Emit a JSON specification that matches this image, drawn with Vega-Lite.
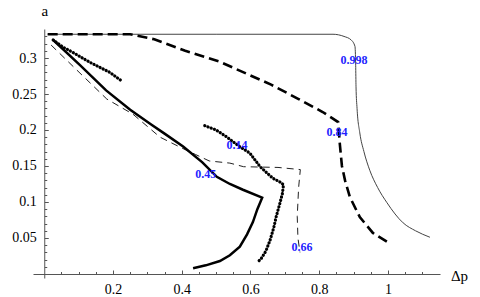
{
  "$schema": "https://vega.github.io/schema/vega-lite/v6.json",
  "width": 407,
  "height": 249,
  "autosize": "none",
  "padding": {"left": 33, "top": 29, "right": 40, "bottom": 19},
  "config": {"view": {"stroke": null}, "font": "Times New Roman"},
  "datasets": {
    "A": [
      {"i": 1, "x": 0.01, "y": 0.333}, {"i": 2, "x": 0.5, "y": 0.333}, {"i": 3, "x": 0.84, "y": 0.333},
      {"i": 4, "x": 0.872, "y": 0.330}, {"i": 5, "x": 0.893, "y": 0.325}, {"i": 6, "x": 0.904, "y": 0.316},
      {"i": 7, "x": 0.906, "y": 0.29}, {"i": 8, "x": 0.907, "y": 0.26}, {"i": 9, "x": 0.91, "y": 0.23},
      {"i": 10, "x": 0.918, "y": 0.196}, {"i": 11, "x": 0.93, "y": 0.17}, {"i": 12, "x": 0.947, "y": 0.144},
      {"i": 13, "x": 0.97, "y": 0.12}, {"i": 14, "x": 0.997, "y": 0.099}, {"i": 15, "x": 1.044, "y": 0.071},
      {"i": 16, "x": 1.08, "y": 0.06}, {"i": 17, "x": 1.122, "y": 0.051}
    ],
    "B": [
      {"i": 1, "x": 0.01, "y": 0.333}, {"i": 2, "x": 0.25, "y": 0.333}, {"i": 3, "x": 0.32, "y": 0.326},
      {"i": 4, "x": 0.41, "y": 0.31}, {"i": 5, "x": 0.51, "y": 0.295}, {"i": 6, "x": 0.58, "y": 0.28},
      {"i": 7, "x": 0.66, "y": 0.263}, {"i": 8, "x": 0.74, "y": 0.243}, {"i": 9, "x": 0.81, "y": 0.225},
      {"i": 10, "x": 0.855, "y": 0.211}, {"i": 11, "x": 0.86, "y": 0.18}, {"i": 12, "x": 0.866, "y": 0.15},
      {"i": 13, "x": 0.875, "y": 0.13}, {"i": 14, "x": 0.889, "y": 0.107}, {"i": 15, "x": 0.918, "y": 0.079},
      {"i": 16, "x": 0.956, "y": 0.057}, {"i": 17, "x": 1.006, "y": 0.042}
    ],
    "C": [
      {"i": 1, "x": 0.02, "y": 0.318}, {"i": 2, "x": 0.104, "y": 0.279}, {"i": 3, "x": 0.182, "y": 0.243},
      {"i": 4, "x": 0.258, "y": 0.222}, {"i": 5, "x": 0.337, "y": 0.19}, {"i": 6, "x": 0.40, "y": 0.175},
      {"i": 7, "x": 0.44, "y": 0.166}, {"i": 8, "x": 0.48, "y": 0.157}, {"i": 9, "x": 0.54, "y": 0.154},
      {"i": 10, "x": 0.58, "y": 0.149}, {"i": 11, "x": 0.68, "y": 0.148}, {"i": 12, "x": 0.745, "y": 0.145},
      {"i": 13, "x": 0.74, "y": 0.12}, {"i": 14, "x": 0.736, "y": 0.08}, {"i": 15, "x": 0.738, "y": 0.05},
      {"i": 16, "x": 0.744, "y": 0.03}
    ],
    "D": [
      {"i": 1, "x": 0.026, "y": 0.325}, {"i": 2, "x": 0.104, "y": 0.29}, {"i": 3, "x": 0.18, "y": 0.255},
      {"i": 4, "x": 0.25, "y": 0.228}, {"i": 5, "x": 0.31, "y": 0.208}, {"i": 6, "x": 0.35, "y": 0.195},
      {"i": 7, "x": 0.404, "y": 0.177}, {"i": 8, "x": 0.46, "y": 0.155}, {"i": 9, "x": 0.502, "y": 0.135},
      {"i": 10, "x": 0.54, "y": 0.125}, {"i": 11, "x": 0.578, "y": 0.117}, {"i": 12, "x": 0.634, "y": 0.106},
      {"i": 13, "x": 0.62, "y": 0.09}, {"i": 14, "x": 0.607, "y": 0.072}, {"i": 15, "x": 0.59, "y": 0.055},
      {"i": 16, "x": 0.569, "y": 0.038}, {"i": 17, "x": 0.54, "y": 0.026}, {"i": 18, "x": 0.511, "y": 0.018},
      {"i": 19, "x": 0.47, "y": 0.012}, {"i": 20, "x": 0.433, "y": 0.008}
    ],
    "E": [
      {"s": "E1", "i": 1, "x": 0.026, "y": 0.325}, {"s": "E1", "i": 2, "x": 0.055, "y": 0.315},
      {"s": "E1", "i": 3, "x": 0.075, "y": 0.31}, {"s": "E1", "i": 4, "x": 0.104, "y": 0.302},
      {"s": "E1", "i": 5, "x": 0.133, "y": 0.294}, {"s": "E1", "i": 6, "x": 0.162, "y": 0.287},
      {"s": "E1", "i": 7, "x": 0.191, "y": 0.28}, {"s": "E1", "i": 8, "x": 0.214, "y": 0.272},
      {"s": "E1", "i": 9, "x": 0.226, "y": 0.268},
      {"s": "E2", "i": 10, "x": 0.467, "y": 0.206}, {"s": "E2", "i": 11, "x": 0.5, "y": 0.2},
      {"s": "E2", "i": 12, "x": 0.532, "y": 0.19}, {"s": "E2", "i": 13, "x": 0.565, "y": 0.178},
      {"s": "E2", "i": 14, "x": 0.598, "y": 0.168}, {"s": "E2", "i": 15, "x": 0.628, "y": 0.149},
      {"s": "E2", "i": 16, "x": 0.665, "y": 0.133}, {"s": "E2", "i": 17, "x": 0.685, "y": 0.128},
      {"s": "E2", "i": 18, "x": 0.696, "y": 0.124}, {"s": "E2", "i": 19, "x": 0.693, "y": 0.112},
      {"s": "E2", "i": 20, "x": 0.686, "y": 0.099}, {"s": "E2", "i": 21, "x": 0.675, "y": 0.08},
      {"s": "E2", "i": 22, "x": 0.668, "y": 0.065}, {"s": "E2", "i": 23, "x": 0.657, "y": 0.047},
      {"s": "E2", "i": 24, "x": 0.645, "y": 0.032}, {"s": "E2", "i": 25, "x": 0.632, "y": 0.022},
      {"s": "E2", "i": 26, "x": 0.622, "y": 0.017}
    ],
    "L": [
      {"x": 0.901, "y": 0.297, "t": "0.998"},
      {"x": 0.852, "y": 0.197, "t": "0.84"},
      {"x": 0.561, "y": 0.179, "t": "0.14"},
      {"x": 0.47, "y": 0.139, "t": "0.45"},
      {"x": 0.75, "y": 0.0375, "t": "0.66"}
    ]
  },
  "encoding": {
    "x": {
      "field": "x", "type": "quantitative",
      "scale": {"domain": [-0.0327, 1.1513], "nice": false, "zero": false},
      "axis": {
        "orient": "bottom", "offset": -4, "title": "Δp", "grid": false,
        "values": [0.05, 0.1, 0.15, 0.2, 0.25, 0.3, 0.35, 0.4, 0.45, 0.5, 0.55, 0.6, 0.65, 0.7, 0.75, 0.8, 0.85, 0.9, 0.95, 1, 1.05, 1.1],
        "labelExpr": "abs(datum.value*5 - round(datum.value*5)) < 0.001 ? format(datum.value, '~g') : ''",
        "tickSize": {"condition": {"test": "abs(datum.value*5 - round(datum.value*5)) < 0.001", "value": -4}, "value": -2.5},
        "tickColor": "#555", "domainColor": "#555", "labelColor": "#000",
        "labelFont": "Times New Roman", "labelFontSize": 14, "labelPadding": 12, "labelFlush": false, "labelOverlap": false,
        "titleFont": "Times New Roman", "titleFontSize": 15, "titleFontWeight": "normal", "titleColor": "#000",
        "titleAngle": 0, "titleX": 426, "titleY": 1, "titleAlign": "center", "titleBaseline": "middle"
      }
    },
    "y": {
      "field": "y", "type": "quantitative",
      "scale": {"domain": [-0.0056, 0.3403], "nice": false, "zero": false},
      "axis": {
        "orient": "left", "offset": -11.25, "title": "a", "grid": false,
        "values": [0.01, 0.02, 0.03, 0.04, 0.05, 0.06, 0.07, 0.08, 0.09, 0.1, 0.11, 0.12, 0.13, 0.14, 0.15, 0.16, 0.17, 0.18, 0.19, 0.2, 0.21, 0.22, 0.23, 0.24, 0.25, 0.26, 0.27, 0.28, 0.29, 0.3, 0.31, 0.32, 0.33],
        "labelExpr": "abs(datum.value*20 - round(datum.value*20)) < 0.001 ? format(datum.value, '~g') : ''",
        "tickSize": {"condition": {"test": "abs(datum.value*20 - round(datum.value*20)) < 0.001", "value": -4}, "value": -2.5},
        "tickColor": "#555", "domainColor": "#555", "labelColor": "#000",
        "labelFont": "Times New Roman", "labelFontSize": 14, "labelPadding": 12, "labelFlush": false, "labelOverlap": false,
        "titleFont": "Times New Roman", "titleFontSize": 15, "titleFontWeight": "normal", "titleColor": "#000",
        "titleAngle": 0, "titleX": 0, "titleY": -19, "titleAlign": "center", "titleBaseline": "middle"
      }
    }
  },
  "layer": [
    {"data": {"name": "A"}, "mark": {"type": "line", "stroke": "#444", "strokeWidth": 1, "interpolate": "monotone"}, "encoding": {"order": {"field": "i", "type": "quantitative"}}},
    {"data": {"name": "B"}, "mark": {"type": "line", "stroke": "#000", "strokeWidth": 2.6, "strokeDash": [10, 5]}, "encoding": {"order": {"field": "i", "type": "quantitative"}}},
    {"data": {"name": "C"}, "mark": {"type": "line", "stroke": "#222", "strokeWidth": 1, "strokeDash": [7, 5]}, "encoding": {"order": {"field": "i", "type": "quantitative"}}},
    {"data": {"name": "D"}, "mark": {"type": "line", "stroke": "#000", "strokeWidth": 2.5}, "encoding": {"order": {"field": "i", "type": "quantitative"}}},
    {"data": {"name": "E"}, "mark": {"type": "line", "stroke": "#000", "strokeWidth": 3.2, "strokeDash": [0.1, 3.3], "strokeCap": "round"}, "encoding": {"order": {"field": "i", "type": "quantitative"}, "detail": {"field": "s"}}},
    {"data": {"name": "L"}, "mark": {"type": "text", "font": "Times New Roman", "fontSize": 12, "fontWeight": "bold", "color": "#1f1fff", "align": "center", "baseline": "middle"}, "encoding": {"text": {"field": "t"}}}
  ]
}
